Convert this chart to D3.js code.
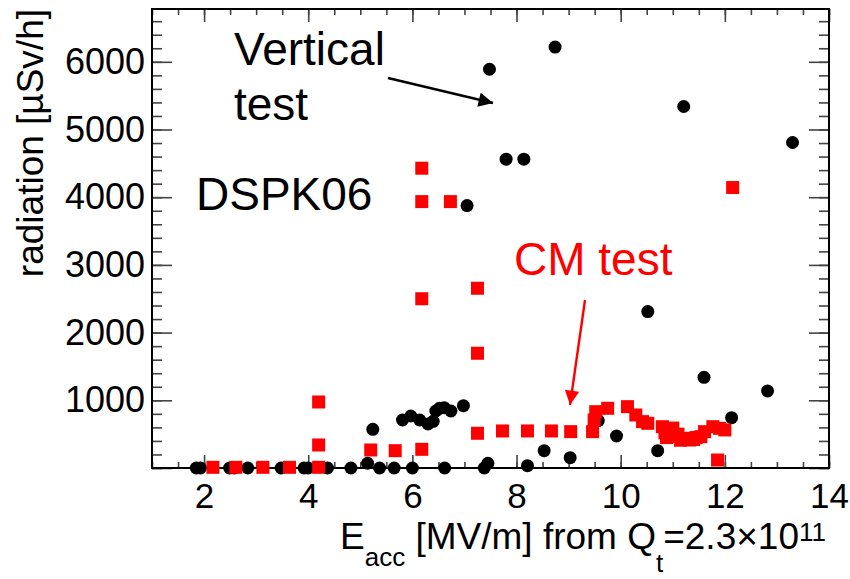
<!DOCTYPE html>
<html>
<head>
<meta charset="utf-8">
<script src="https://cdn.jsdelivr.net/npm/d3@7"></script>
<style>
  html, body { margin: 0; padding: 0; background: #fff; }
  svg { display: block; font-family: "Liberation Sans", Arial, Helvetica, sans-serif; }
</style>
</head>
<body>
<svg id="chart" width="850" height="579"></svg>
<script>
// ---- data ----
const vertE   = [1.85, 1.93, 2.49, 2.58, 2.84, 3.48, 3.92, 4.00, 4.37, 4.82, 5.14, 5.24, 5.37, 5.65, 5.81, 5.97, 6.00, 6.14, 6.30, 6.40, 6.45, 6.52, 6.61, 6.62, 6.74, 6.98, 7.05, 7.38, 7.45, 7.48, 7.80, 8.14, 8.21, 8.53, 8.74, 9.03, 9.57, 9.92, 10.52, 10.71, 11.21, 11.60, 12.13, 12.82, 13.30];
const vertRad = [0, 0, 0, 0, 0, 0, 0, 0, 0, 0, 70, 571, 0, 0, 709, 768, 0, 709, 650, 690, 842, 882, 891, 0, 842, 920, 3877, 0, 70, 5890, 4562, 4562, 34, 256, 6217, 152, 700, 473, 2310, 256, 5340, 1340, 744, 1138, 4808];

const cmE   = [2.17, 2.61, 3.13, 3.64, 4.20, 4.20, 4.20, 5.20, 5.67, 6.18, 6.18, 6.18, 6.18, 6.73, 7.25, 7.25, 7.25, 7.73, 8.21, 8.67, 9.04, 9.46, 9.49, 9.52, 9.75, 10.13, 10.29, 10.42, 10.52, 10.80, 10.85, 10.93, 11.00, 11.03, 11.10, 11.22, 11.32, 11.45, 11.54, 11.61, 11.77, 11.90, 12.00, 11.86, 12.15, 10.88, 11.15, 11.40];
const cmRad = [10, 10, 10, 10, 10, 340, 975, 266, 256, 276, 2500, 3935, 4428, 3935, 513, 1695, 2655, 547, 547, 547, 537, 537, 709, 832, 882, 906, 783, 685, 660, 610, 520, 562, 590, 463, 500, 439, 414, 450, 463, 537, 610, 586, 562, 118, 4143, 450, 410, 420];

const xMajorTicks = [2, 4, 6, 8, 10, 12, 14];
const yMajorTicks = [0, 1000, 2000, 3000, 4000, 5000, 6000];
const xTitleParts = ["E", "acc", " [MV/m] from Q", "t", "=2.3\u00d710", "11"];
const yTitle = "radiation [\u00b5Sv/h]";

// ---- layout ----
const svg = d3.select("#chart");
const L = 152, R = 829, T = 9, B = 468;
const x = d3.scaleLinear().domain([1, 14]).range([L, R]);
const y = d3.scaleLinear().domain([0, 6780]).range([B, T]);
const tickColor = "#444";

function styleAxis(g) {
  g.select(".domain").remove();
  g.selectAll(".tick line").attr("stroke", tickColor).attr("stroke-width", 1.6);
}

// minor ticks
const xMinor = d3.range(1, 14.001, 0.5);
const yMinor = d3.range(0, 6780, 200);

svg.append("g").attr("transform", `translate(0,${B})`)
  .call(d3.axisBottom(x).tickValues(xMinor).tickSize(-6).tickFormat(""))
  .call(styleAxis);
svg.append("g").attr("transform", `translate(0,${T})`)
  .call(d3.axisTop(x).tickValues(xMinor).tickSize(-6).tickFormat(""))
  .call(styleAxis);
svg.append("g").attr("transform", `translate(${L},0)`)
  .call(d3.axisLeft(y).tickValues(yMinor).tickSize(-10).tickFormat(""))
  .call(styleAxis);
svg.append("g").attr("transform", `translate(${R},0)`)
  .call(d3.axisRight(y).tickValues(yMinor).tickSize(-10).tickFormat(""))
  .call(styleAxis);

// major ticks + labels
const xAx = svg.append("g").attr("transform", `translate(0,${B})`)
  .call(d3.axisBottom(x).tickValues(xMajorTicks).tickSize(-13).tickPadding(15).tickFormat(d3.format("d")))
  .call(styleAxis);
xAx.selectAll("text").attr("font-size", 35).attr("fill", "#000").attr("font-family", "Liberation Sans, Arial, sans-serif");

svg.append("g").attr("transform", `translate(0,${T})`)
  .call(d3.axisTop(x).tickValues(xMajorTicks).tickSize(-13).tickFormat(""))
  .call(styleAxis);

const yAx = svg.append("g").attr("transform", `translate(${L},0)`)
  .call(d3.axisLeft(y).tickValues(yMajorTicks).tickSize(-20).tickPadding(7).tickFormat(d => d === 0 ? "" : d3.format("d")(d)))
  .call(styleAxis);
yAx.selectAll("text").attr("font-size", 36).attr("fill", "#000").attr("font-family", "Liberation Sans, Arial, sans-serif");

svg.append("g").attr("transform", `translate(${R},0)`)
  .call(d3.axisRight(y).tickValues(yMajorTicks).tickSize(-20).tickFormat(""))
  .call(styleAxis);

// frame
svg.append("rect").attr("x", L).attr("y", T).attr("width", R - L).attr("height", B - T)
  .attr("fill", "none").attr("stroke", "#000").attr("stroke-width", 2);

// points: black circles (vertical test)
const vert = vertE.map((e, i) => ({e, v: vertRad[i]}));
svg.append("g").selectAll("circle").data(vert).join("circle")
  .attr("cx", d => x(d.e)).attr("cy", d => y(d.v)).attr("r", 6.5).attr("fill", "#000");

// red squares (CM test)
const cm = cmE.map((e, i) => ({e, v: cmRad[i]}));
const S = 13;
svg.append("g").selectAll("rect").data(cm).join("rect")
  .attr("x", d => x(d.e) - S / 2).attr("y", d => y(d.v) - S / 2)
  .attr("width", S).attr("height", S).attr("fill", "#ff0000");

// axis titles
svg.append("text").attr("transform", "translate(43,9) rotate(-90)")
  .attr("text-anchor", "end").attr("font-size", 37).attr("fill", "#000").text(yTitle);

const xt = svg.append("text").attr("x", 826).attr("y", 549).attr("text-anchor", "end")
  .attr("font-size", 37).attr("fill", "#000");
xt.append("tspan").text(xTitleParts[0]);
xt.append("tspan").attr("font-size", 26).attr("dy", 17).text(xTitleParts[1]);
xt.append("tspan").attr("dy", -17).text(xTitleParts[2]);
xt.append("tspan").attr("font-size", 26).attr("dy", 23).text(xTitleParts[3]);
xt.append("tspan").attr("dy", -23).text(xTitleParts[4]);
xt.append("tspan").attr("font-size", 26).attr("dy", -8).text(xTitleParts[5]);

// annotations
const defs = svg.append("defs");
function arrowMarker(id, color) {
  defs.append("marker").attr("id", id).attr("viewBox", "0 0 10 10")
    .attr("refX", 10).attr("refY", 5).attr("markerWidth", 7.5).attr("markerHeight", 6)
    .attr("markerUnits", "strokeWidth").attr("orient", "auto")
    .append("path").attr("d", "M0,0 L10,5 L0,10 Z").attr("fill", color);
}
arrowMarker("arrK", "#000");
arrowMarker("arrR", "#ff0000");

svg.append("text").attr("x", 234).attr("y", 65).attr("font-size", 46).attr("fill", "#000").text("Vertical");
svg.append("text").attr("x", 234).attr("y", 120).attr("font-size", 46).attr("fill", "#000").text("test");
svg.append("text").attr("x", 196).attr("y", 210).attr("font-size", 46).attr("fill", "#000").text("DSPK06");
svg.append("text").attr("x", 514).attr("y", 275).attr("font-size", 46).attr("fill", "#ff0000").text("CM test");

svg.append("line").attr("x1", 388).attr("y1", 78).attr("x2", 493).attr("y2", 103)
  .attr("stroke", "#000").attr("stroke-width", 2.4).attr("marker-end", "url(#arrK)");
svg.append("line").attr("x1", 585).attr("y1", 300).attr("x2", 570).attr("y2", 405)
  .attr("stroke", "#ff0000").attr("stroke-width", 2.4).attr("marker-end", "url(#arrR)");
</script>
</body>
</html>
